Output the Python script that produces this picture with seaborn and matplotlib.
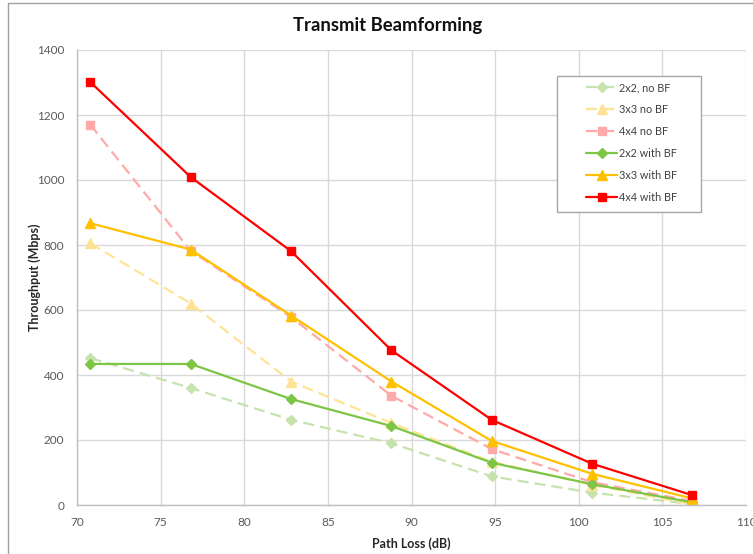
import matplotlib
matplotlib.use("Agg")
import matplotlib.pyplot as plt
from matplotlib.lines import Line2D
from matplotlib.patches import Rectangle
import seaborn as sns
import pandas as pd

# Path loss (dB) at each measurement point
path_loss = [70.8, 76.8, 82.8, 88.8, 94.8, 100.8, 106.8]

# Throughput (Mbps)
tput_2x2_nobf = [452, 360, 262, 190, 88, 38, 3]
tput_3x3_nobf = [805, 620, 380, 252, 133, 62, 2]
tput_4x4_nobf = [1170, 782, 578, 336, 172, 70, 12]
tput_2x2_bf = [434, 434, 326, 243, 130, 64, 8]
tput_3x3_bf = [867, 786, 583, 380, 197, 96, 20]
tput_4x4_bf = [1301, 1009, 781, 476, 262, 127, 30]

series_names = ["2x2, no BF", "3x3 no BF", "4x4 no BF",
                "2x2 with BF", "3x3 with BF", "4x4 with BF"]
x_ticks = [70, 75, 80, 85, 90, 95, 100, 105, 110]
y_ticks = [0, 200, 400, 600, 800, 1000, 1200, 1400]

sns.set_style("white")
plt.rcParams["font.family"] = ["Lato", "DejaVu Sans"]

DASH = (0, (5, 2.7))
styles = [
    # color, marker, markersize, linestyle
    ("#c6e3ad", "D", 5.5, DASH),
    ("#ffe394", "^", 6.5, DASH),
    ("#ffa9a9", "s", 6.0, DASH),
    ("#7cc545", "D", 5.5, "-"),
    ("#ffc000", "^", 6.5, "-"),
    ("#ff0000", "s", 6.0, "-"),
]
values = [tput_2x2_nobf, tput_3x3_nobf, tput_4x4_nobf,
          tput_2x2_bf, tput_3x3_bf, tput_4x4_bf]

W, H = 753, 554
fig = plt.figure(figsize=(W / 100, H / 100), dpi=100)
ax = fig.add_axes([77 / W, 1 - 505 / H, (746 - 77) / W, (505 - 50) / H])

for name, vals, (color, marker, ms, ls) in zip(series_names, values, styles):
    df = pd.DataFrame({"Path Loss": path_loss, "Throughput": vals})
    sns.lineplot(data=df, x="Path Loss", y="Throughput", ax=ax, color=color,
                 marker=marker, markersize=ms, markeredgecolor=color,
                 markeredgewidth=1.0, linestyle=ls, linewidth=1.6, label=name)

ax.set_xlim(70, 110)
ax.set_ylim(0, 1400)
ax.set_xticks(x_ticks)
ax.set_yticks(y_ticks)
ax.grid(True, color="#d9d9d9", linewidth=1.0)
ax.set_axisbelow(True)
for side in ["top", "right"]:
    ax.spines[side].set_visible(False)
for side in ["left", "bottom"]:
    ax.spines[side].set_color("#bfbfbf")
    ax.spines[side].set_linewidth(1.0)
ax.tick_params(axis="both", which="major", direction="out", length=5,
               width=1.0, color="#bfbfbf", labelsize=8.5, labelcolor="#595959")
ax.tick_params(axis="y", pad=4)
ax.tick_params(axis="x", pad=4)

ax.set_xlabel("Path Loss (dB)", fontsize=9, fontweight="bold", color="#262626",
              labelpad=6)
ax.set_ylabel("Throughput (Mbps)", fontsize=9, fontweight="bold", color="#262626",
              labelpad=-3)

fig.text(388 / W, 1 - 25 / H, "Transmit Beamforming", fontsize=13.3,
         fontweight="bold", color="#111111", ha="center", va="center")

# legend box drawn separately so the wide side padding can be kept
ax.add_patch(Rectangle((557 / W, 1 - 212 / H), (701 - 557) / W, (212 - 76) / H,
                       transform=fig.transFigure, facecolor="white",
                       edgecolor="#a6a6a6", linewidth=1.0, zorder=4))
leg = ax.legend(loc="upper left", bbox_to_anchor=(586 / W, 1 - 82 / H),
                bbox_transform=fig.transFigure,
                borderaxespad=0, borderpad=0, frameon=False, fontsize=7.8,
                handlelength=2.9, labelspacing=1.02, handletextpad=0.15)
leg.set_zorder(5)
for t in leg.get_texts():
    t.set_color("#404040")

# chart area border
fig.add_artist(Line2D([8 / W, 8 / W], [0, 1 - 3 / H], color="#a0a0a0",
                      linewidth=1.0, transform=fig.transFigure))
fig.add_artist(Line2D([8 / W, 1], [1 - 3 / H, 1 - 3 / H], color="#a0a0a0",
                      linewidth=1.0, transform=fig.transFigure))

fig.savefig("out.png", dpi=100)
